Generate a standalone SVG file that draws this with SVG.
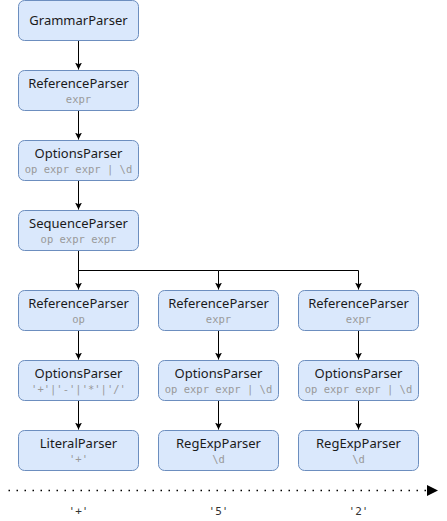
<svg xmlns="http://www.w3.org/2000/svg" width="447" height="521" viewBox="0 0 447 521">
<style>
.box{fill:#dae8fc;stroke:#6c8ebf;stroke-width:1}
.t{font-family:"Noto Sans","Open Sans",sans-serif;font-size:13px;fill:#1a1a1a;text-anchor:middle}
.s{font-family:"DejaVu Sans Mono","Liberation Mono",monospace;font-size:10.5px;fill:#999999;text-anchor:middle}
.c{fill:none;stroke:#000;stroke-width:1}
.lbl{font-family:"DejaVu Sans Mono","Liberation Mono",monospace;font-size:11px;fill:#333;text-anchor:middle}
</style>
<defs>
<marker id="ah" markerWidth="8" markerHeight="8" refX="7" refY="4" orient="auto" markerUnits="userSpaceOnUse">
<path d="M0,0.5 L7,4 L0,7.5 L1.8,4 Z" fill="#000"/>
</marker>
<marker id="ah2" markerWidth="12" markerHeight="12" refX="11" refY="6" orient="auto" markerUnits="userSpaceOnUse">
<path d="M0,0.5 L11,6 L0,11.5 Z" fill="#000"/>
</marker>
</defs>
<g id="connectors">
<path class="c" d="M78.5,40.5 V69.5" marker-end="url(#ah)"/>
<path class="c" d="M78.5,110.5 V139.5" marker-end="url(#ah)"/>
<path class="c" d="M78.5,180.5 V209.5" marker-end="url(#ah)"/>
<path class="c" d="M78.5,250.5 V289.5" marker-end="url(#ah)"/>
<path class="c" d="M78.5,270.5 H218.5 V289.5" marker-end="url(#ah)"/>
<path class="c" d="M218.5,270.5 H358.5 V289.5" marker-end="url(#ah)"/>
<path class="c" d="M78.5,330.5 V359.5" marker-end="url(#ah)"/>
<path class="c" d="M218.5,330.5 V359.5" marker-end="url(#ah)"/>
<path class="c" d="M358.5,330.5 V359.5" marker-end="url(#ah)"/>
<path class="c" d="M78.5,400.5 V429.5" marker-end="url(#ah)"/>
<path class="c" d="M218.5,400.5 V429.5" marker-end="url(#ah)"/>
<path class="c" d="M358.5,400.5 V429.5" marker-end="url(#ah)"/>
<path d="M8.5,490.5 H438" fill="none" stroke="#000" stroke-width="1.5" stroke-dasharray="1.5 6.5" marker-end="url(#ah2)"/>
</g>
<g id="n1"><rect class="box" x="18.5" y="0.5" width="120" height="40" rx="6"/><text class="t" x="78.5" y="25">GrammarParser</text></g>
<g id="n2"><rect class="box" x="18.5" y="70.5" width="120" height="40" rx="6"/><text class="t" x="78.5" y="88">ReferenceParser</text><text class="s" x="78.5" y="103">expr</text></g>
<g id="n3"><rect class="box" x="18.5" y="140.5" width="120" height="40" rx="6"/><text class="t" x="78.5" y="158">OptionsParser</text><text class="s" x="78.5" y="173">op expr expr | \d</text></g>
<g id="n4"><rect class="box" x="18.5" y="210.5" width="120" height="40" rx="6"/><text class="t" x="78.5" y="228">SequenceParser</text><text class="s" x="78.5" y="243">op expr expr</text></g>
<g id="n5"><rect class="box" x="18.5" y="290.5" width="120" height="40" rx="6"/><text class="t" x="78.5" y="308">ReferenceParser</text><text class="s" x="78.5" y="323">op</text></g>
<g id="n6"><rect class="box" x="158.5" y="290.5" width="120" height="40" rx="6"/><text class="t" x="218.5" y="308">ReferenceParser</text><text class="s" x="218.5" y="323">expr</text></g>
<g id="n7"><rect class="box" x="298.5" y="290.5" width="120" height="40" rx="6"/><text class="t" x="358.5" y="308">ReferenceParser</text><text class="s" x="358.5" y="323">expr</text></g>
<g id="n8"><rect class="box" x="18.5" y="360.5" width="120" height="40" rx="6"/><text class="t" x="78.5" y="378">OptionsParser</text><text class="s" x="78.5" y="393">'+'|'-'|'*'|'/'</text></g>
<g id="n9"><rect class="box" x="158.5" y="360.5" width="120" height="40" rx="6"/><text class="t" x="218.5" y="378">OptionsParser</text><text class="s" x="218.5" y="393">op expr expr | \d</text></g>
<g id="n10"><rect class="box" x="298.5" y="360.5" width="120" height="40" rx="6"/><text class="t" x="358.5" y="378">OptionsParser</text><text class="s" x="358.5" y="393">op expr expr | \d</text></g>
<g id="n11"><rect class="box" x="18.5" y="430.5" width="120" height="40" rx="6"/><text class="t" x="78.5" y="448">LiteralParser</text><text class="s" x="78.5" y="463">'+'</text></g>
<g id="n12"><rect class="box" x="158.5" y="430.5" width="120" height="40" rx="6"/><text class="t" x="218.5" y="448">RegExpParser</text><text class="s" x="218.5" y="463">\d</text></g>
<g id="n13"><rect class="box" x="298.5" y="430.5" width="120" height="40" rx="6"/><text class="t" x="358.5" y="448">RegExpParser</text><text class="s" x="358.5" y="463">\d</text></g>
<g id="labels">
<text class="lbl" x="78.5" y="515">'+'</text>
<text class="lbl" x="218.5" y="515">'5'</text>
<text class="lbl" x="358.5" y="515">'2'</text>
</g>
</svg>
